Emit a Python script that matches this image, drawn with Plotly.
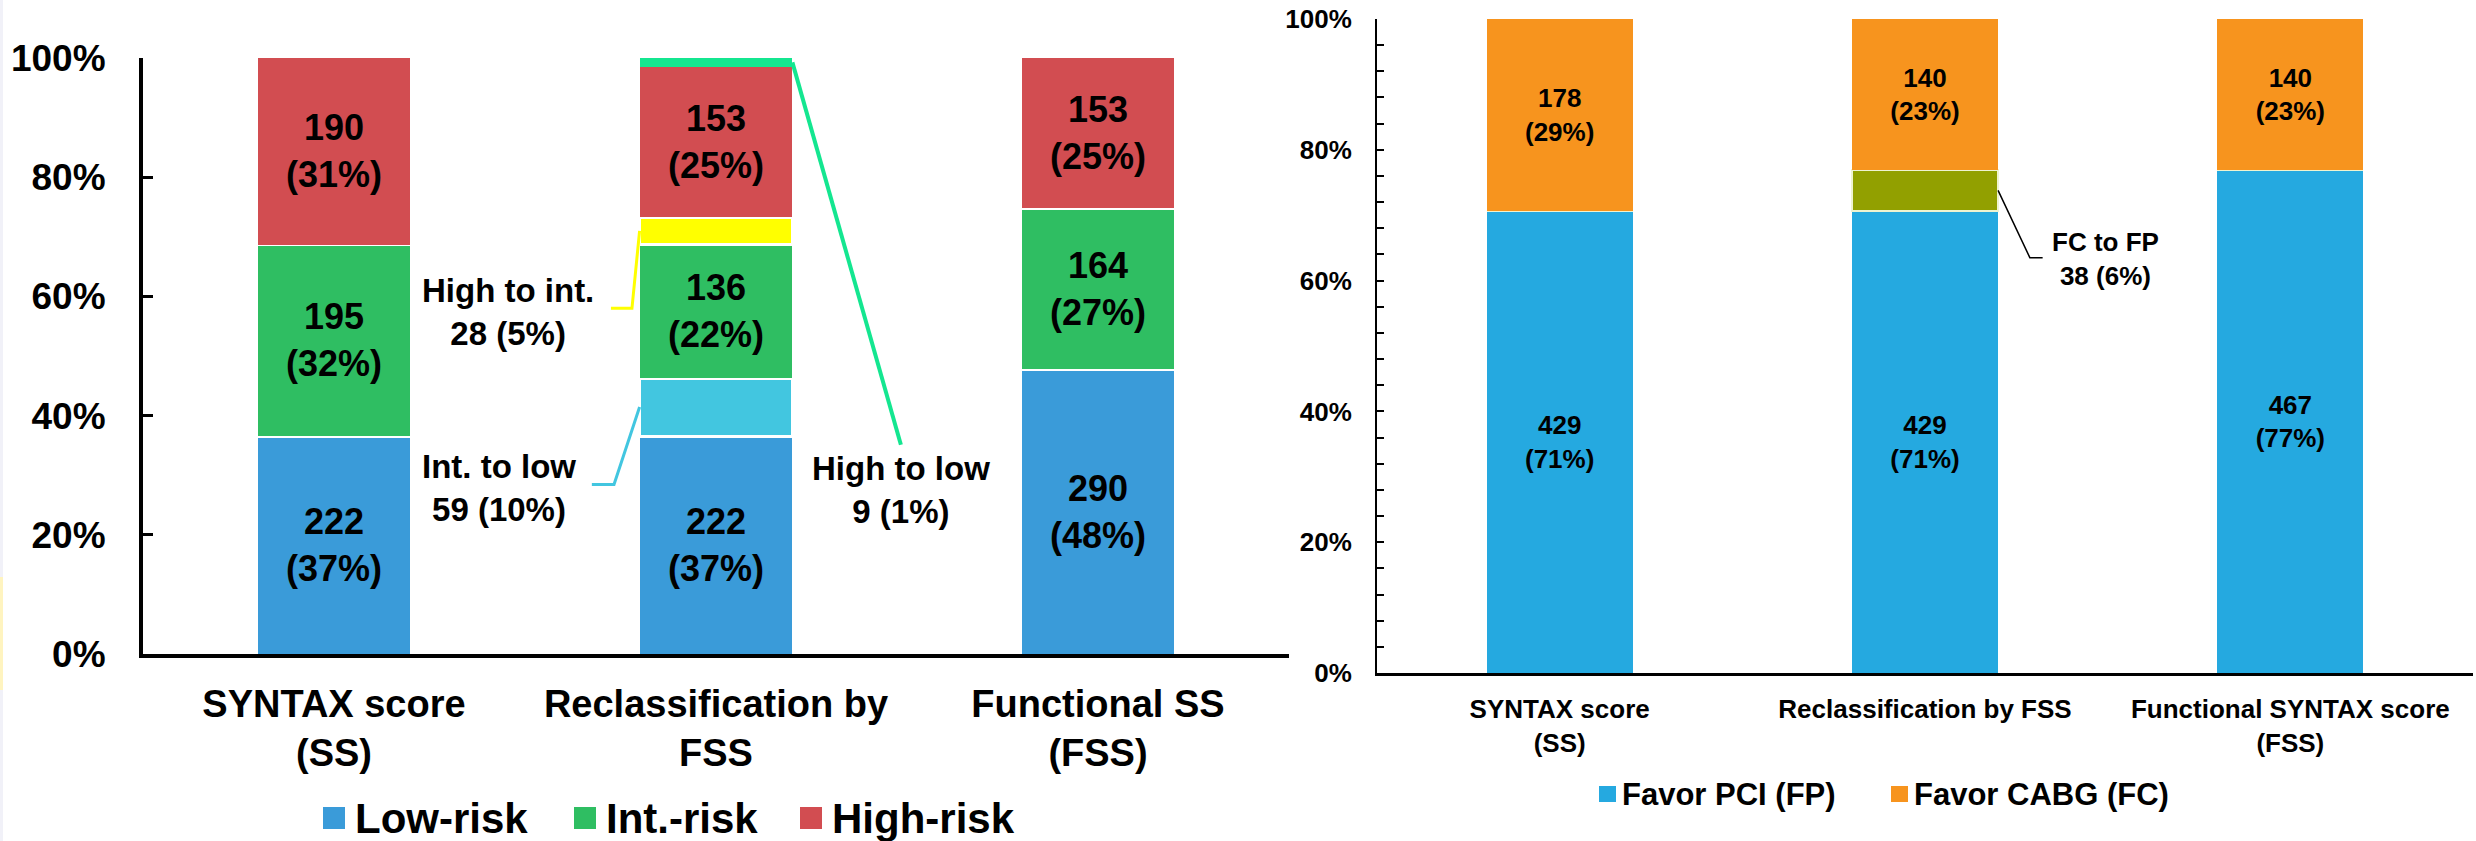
import plotly.graph_objects as go

W, H = 2476, 841
FONT = "Liberation Sans, Arial, sans-serif"

# ---------------- data ----------------
left_categories = ["SYNTAX score<br>(SS)", "Reclassification by<br>FSS", "Functional SS<br>(FSS)"]
low_risk = [222, 222, 290]
int_to_low = [0, 59, 0]
int_risk = [195, 136, 164]
high_to_int = [0, 28, 0]
high_risk = [190, 153, 153]
high_to_low = [0, 9, 0]

right_categories = ["SYNTAX score<br>(SS)", "Reclassification by FSS", "Functional SYNTAX score<br>(FSS)"]
favor_pci = [429, 429, 467]
fc_to_fp = [0, 38, 0]
favor_cabg = [178, 140, 140]

left_legend = ["Low-risk", "Int.-risk", "High-risk"]
right_legend = ["Favor PCI (FP)", "Favor CABG (FC)"]
y_ticks = [0, 20, 40, 60, 80, 100]
y_ticktext = ["0%", "20%", "40%", "60%", "80%", "100%"]

# ---------------- helpers ----------------
def px(x):
    return x / W

def py(y):
    return 1 - y / H

left_stack = [low_risk, int_to_low, int_risk, high_to_int, high_risk, high_to_low]
right_stack = [favor_pci, fc_to_fp, favor_cabg]

def totals(stack):
    return [sum(s[i] for s in stack) for i in range(len(stack[0]))]

lt = totals(left_stack)
rt = totals(right_stack)

def pct(vals, tot):
    return [100 * v / t for v, t in zip(vals, tot)]

def labels(vals, tot):
    return [f"{v}<br>({round(100 * v / t)}%)" if v else "" for v, t in zip(vals, tot)]

def seg_mid(stack, k, i, tot):
    bottom = sum(100 * stack[j][i] / tot[i] for j in range(k))
    return bottom + 50 * stack[k][i] / tot[i]

BAR_W = 0.4
x_idx = [0, 1, 2]

fig = go.Figure()

left_specs = [
    (low_risk, "#3A9BD9", True, 0),
    (int_to_low, "#42C6E0", False, 3),
    (int_risk, "#2FBE62", True, 0),
    (high_to_int, "#FFFF00", False, 3),
    (high_risk, "#D24D51", True, 0),
    (high_to_low, "#14E690", False, 0),
]
for vals, col, lab, lw in left_specs:
    fig.add_trace(go.Bar(
        x=x_idx, y=pct(vals, lt), width=BAR_W,
        marker=dict(color=col, line=dict(color="white", width=lw)),
        text=labels(vals, lt) if lab else None,
        textposition="inside", insidetextanchor="middle", textangle=0,
        textfont=dict(family=FONT, size=36, color="black", weight="bold"),
        xaxis="x", yaxis="y", showlegend=False, hoverinfo="skip",
    ))

right_specs = [
    (favor_pci, "#25A9E0", True, 0),
    (fc_to_fp, "#92A000", False, 2),
    (favor_cabg, "#F7941E", True, 0),
]
for vals, col, lab, lw in right_specs:
    fig.add_trace(go.Bar(
        x=x_idx, y=pct(vals, rt), width=BAR_W,
        marker=dict(color=col, line=dict(color="#EEF3D0", width=lw)),
        text=labels(vals, rt) if lab else None,
        textposition="inside", insidetextanchor="middle", textangle=0,
        textfont=dict(family=FONT, size=26, color="black", weight="bold"),
        xaxis="x2", yaxis="y2", showlegend=False, hoverinfo="skip",
    ))

shapes = []
annotations = []

# ---------- callouts (left) ----------
edge_l = 1 - BAR_W / 2
edge_r = 1 + BAR_W / 2
y_hi = seg_mid(left_stack, 3, 1, lt)
y_il = seg_mid(left_stack, 1, 1, lt)
y_hl = seg_mid(left_stack, 5, 1, lt)

shapes.append(dict(type="path", xref="x", yref="y",
                   path=f"M {edge_l},{y_hi} L {edge_l - 0.02},{y_hi - 13} L {edge_l - 0.075},{y_hi - 13}",
                   line=dict(color="#FFFF00", width=3)))
shapes.append(dict(type="path", xref="x", yref="y",
                   path=f"M {edge_l},{y_il} L {edge_l - 0.067},{y_il - 13} L {edge_l - 0.125},{y_il - 13}",
                   line=dict(color="#42C6E0", width=3)))
shapes.append(dict(type="path", xref="x", yref="y",
                   path=f"M {edge_r},{y_hl} L {edge_r + 0.284},{35.1}",
                   line=dict(color="#14E690", width=4)))

def callout_text(name, v, t):
    return f"{name}<br>{v} ({round(100 * v / t)}%)"

annotations.append(dict(xref="x", yref="y", x=0.455, y=y_hi - 13.6, showarrow=False,
                        text=callout_text("High to int.", high_to_int[1], lt[1]),
                        font=dict(family=FONT, size=33, color="black", weight="bold"), align="center"))
annotations.append(dict(xref="x", yref="y", x=0.432, y=y_il - 13.5, showarrow=False,
                        text=callout_text("Int. to low", int_to_low[1], lt[1]),
                        font=dict(family=FONT, size=33, color="black", weight="bold"), align="center"))
annotations.append(dict(xref="x", yref="y", x=1.484, y=27.5, showarrow=False,
                        text=callout_text("High to low", high_to_low[1], lt[1]),
                        font=dict(family=FONT, size=33, color="black", weight="bold"), align="center"))

# ---------- callout (right) ----------
y_fc = seg_mid(right_stack, 1, 1, rt)
shapes.append(dict(type="path", xref="x2", yref="y2",
                   path=f"M {edge_r},{y_fc} L {edge_r + 0.087},{y_fc - 10.3} L {edge_r + 0.122},{y_fc - 10.3}",
                   line=dict(color="black", width=1.5)))
annotations.append(dict(xref="x2", yref="y2", x=1.495, y=y_fc - 10.5, showarrow=False,
                        text=callout_text("FC to FP", fc_to_fp[1], rt[1]),
                        font=dict(family=FONT, size=26, color="black", weight="bold"), align="center"))

# ---------- custom legends ----------
left_cols = ["#3A9BD9", "#2FBE62", "#D24D51"]
left_sq_x = [323, 574, 800]
for name, col, x0 in zip(left_legend, left_cols, left_sq_x):
    shapes.append(dict(type="rect", xref="paper", yref="paper",
                       x0=px(x0), x1=px(x0 + 22), y0=py(829), y1=py(807),
                       fillcolor=col, line=dict(width=0)))
    annotations.append(dict(xref="paper", yref="paper", x=px(x0 + 30), y=py(818),
                            xanchor="left", yanchor="middle", showarrow=False, text=name,
                            font=dict(family=FONT, size=42, color="black", weight="bold")))

right_cols = ["#25A9E0", "#F7941E"]
right_sq_x = [1599, 1891]
for name, col, x0 in zip(right_legend, right_cols, right_sq_x):
    shapes.append(dict(type="rect", xref="paper", yref="paper",
                       x0=px(x0), x1=px(x0 + 17), y0=py(802), y1=py(786),
                       fillcolor=col, line=dict(width=0)))
    annotations.append(dict(xref="paper", yref="paper", x=px(x0 + 21), y=py(794),
                            xanchor="left", yanchor="middle", showarrow=False, text=name,
                            font=dict(family=FONT, size=31, color="black", weight="bold")))

# faint edge artifacts
shapes.append(dict(type="rect", xref="paper", yref="paper", x0=0, x1=px(3), y0=0, y1=1,
                   fillcolor="#F1F1F8", line=dict(width=0), layer="below"))
shapes.append(dict(type="rect", xref="paper", yref="paper", x0=0, x1=px(3), y0=py(690), y1=py(577),
                   fillcolor="#FFF4C0", line=dict(width=0), layer="below"))

fig.update_layout(
    width=W, height=H, margin=dict(l=0, r=0, t=0, b=0, pad=0, autoexpand=False),
    paper_bgcolor="white", plot_bgcolor="white",
    barmode="stack", showlegend=False,
    shapes=shapes, annotations=annotations,
    xaxis=dict(domain=[px(143), px(1289)], range=[-0.5, 2.5], anchor="y", automargin=False,
               tickvals=x_idx, ticktext=left_categories, ticks="",
               showline=True, linewidth=4, linecolor="black",
               showgrid=False, zeroline=False, ticklabelstandoff=13,
               tickfont=dict(family=FONT, size=38, color="black", weight="bold")),
    yaxis=dict(domain=[py(654), py(58)], range=[0, 100], anchor="x", automargin=False,
               tickvals=y_ticks, ticktext=y_ticktext, ticks="inside", ticklen=10, tickwidth=3,
               tickcolor="black", showline=True, linewidth=4, linecolor="black",
               showgrid=False, zeroline=False, ticklabelstandoff=26,
               tickfont=dict(family=FONT, size=37, color="black", weight="bold")),
    xaxis2=dict(domain=[px(1377), px(2473)], range=[-0.5, 2.5], anchor="y2", automargin=False,
                tickvals=x_idx, ticktext=right_categories, ticks="",
                showline=True, linewidth=2.5, linecolor="black",
                showgrid=False, zeroline=False, ticklabelstandoff=11,
                tickfont=dict(family=FONT, size=26, color="black", weight="bold")),
    yaxis2=dict(domain=[py(673), py(19)], range=[0, 100], anchor="x2", automargin=False,
                tickvals=y_ticks, ticktext=y_ticktext, ticks="inside", ticklen=7, tickwidth=2,
                tickcolor="black", showline=True, linewidth=2, linecolor="black",
                minor=dict(tick0=0, dtick=4, ticks="inside", ticklen=7,
                           tickwidth=2, tickcolor="black", showgrid=False),
                showgrid=False, zeroline=False, ticklabelstandoff=18,
                tickfont=dict(family=FONT, size=26, color="black", weight="bold")),
)

fig.write_html(
    "out.html",
    config={"displayModeBar": False, "staticPlot": True},
    post_script="document.body.style.margin='0px';document.body.style.overflow='hidden';",
)
